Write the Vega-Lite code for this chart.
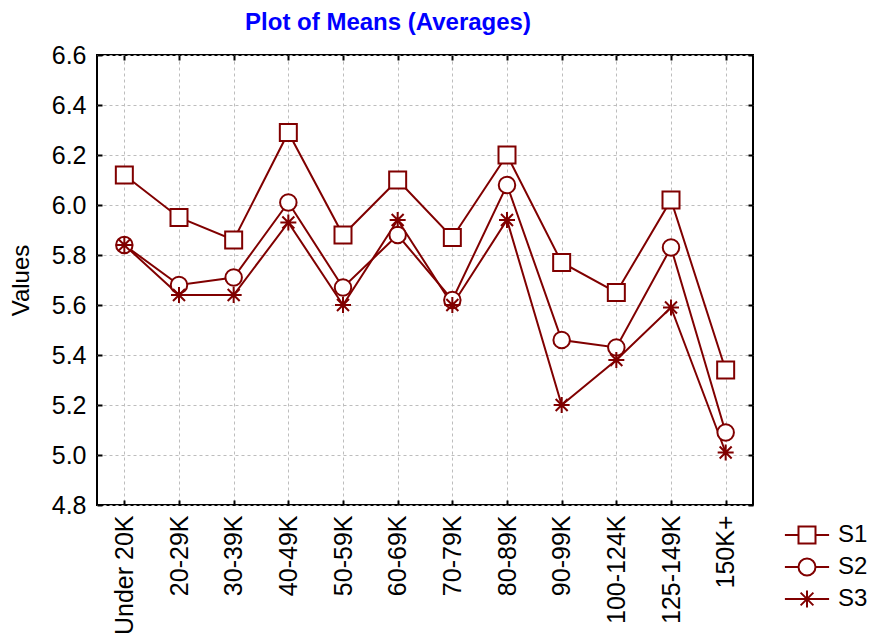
{
  "$schema": "https://vega.github.io/schema/vega-lite/v6.json",
  "width": 656,
  "height": 450,
  "autosize": {"type": "none"},
  "padding": {"left": 97, "top": 55, "right": 124, "bottom": 132},
  "background": "white",
  "title": {
    "text": "Plot of Means (Averages)",
    "font": "Liberation Sans",
    "fontSize": 24,
    "fontWeight": "bold",
    "color": "#0000ff",
    "anchor": "middle",
    "dx": -37,
    "offset": 8
  },
  "config": {
    "view": {"stroke": "black", "strokeWidth": 2},
    "axis": {
      "labelFont": "Liberation Sans",
      "titleFont": "Liberation Sans",
      "labelFontSize": 25,
      "titleFontSize": 24,
      "titleFontWeight": "normal",
      "labelColor": "black",
      "titleColor": "black",
      "tickColor": "black",
      "tickWidth": 2,
      "tickSize": -5,
      "domain": false,
      "gridColor": "#bdbdbd",
      "gridDash": [3, 3],
      "gridWidth": 1
    }
  },
  "data": {
    "values": [
      {"cat": "Under 20K", "series": "S1", "value": 6.12},
      {"cat": "20-29K", "series": "S1", "value": 5.95},
      {"cat": "30-39K", "series": "S1", "value": 5.86},
      {"cat": "40-49K", "series": "S1", "value": 6.29},
      {"cat": "50-59K", "series": "S1", "value": 5.88},
      {"cat": "60-69K", "series": "S1", "value": 6.10},
      {"cat": "70-79K", "series": "S1", "value": 5.87},
      {"cat": "80-89K", "series": "S1", "value": 6.20},
      {"cat": "90-99K", "series": "S1", "value": 5.77},
      {"cat": "100-124K", "series": "S1", "value": 5.65},
      {"cat": "125-149K", "series": "S1", "value": 6.02},
      {"cat": "150K+", "series": "S1", "value": 5.34},
      {"cat": "Under 20K", "series": "S2", "value": 5.84},
      {"cat": "20-29K", "series": "S2", "value": 5.68},
      {"cat": "30-39K", "series": "S2", "value": 5.71},
      {"cat": "40-49K", "series": "S2", "value": 6.01},
      {"cat": "50-59K", "series": "S2", "value": 5.67},
      {"cat": "60-69K", "series": "S2", "value": 5.88},
      {"cat": "70-79K", "series": "S2", "value": 5.62},
      {"cat": "80-89K", "series": "S2", "value": 6.08},
      {"cat": "90-99K", "series": "S2", "value": 5.46},
      {"cat": "100-124K", "series": "S2", "value": 5.43},
      {"cat": "125-149K", "series": "S2", "value": 5.83},
      {"cat": "150K+", "series": "S2", "value": 5.09},
      {"cat": "Under 20K", "series": "S3", "value": 5.84},
      {"cat": "20-29K", "series": "S3", "value": 5.64},
      {"cat": "30-39K", "series": "S3", "value": 5.64},
      {"cat": "40-49K", "series": "S3", "value": 5.93},
      {"cat": "50-59K", "series": "S3", "value": 5.60},
      {"cat": "60-69K", "series": "S3", "value": 5.94},
      {"cat": "70-79K", "series": "S3", "value": 5.60},
      {"cat": "80-89K", "series": "S3", "value": 5.94},
      {"cat": "90-99K", "series": "S3", "value": 5.20},
      {"cat": "100-124K", "series": "S3", "value": 5.38},
      {"cat": "125-149K", "series": "S3", "value": 5.59},
      {"cat": "150K+", "series": "S3", "value": 5.01}
    ]
  },
  "layer": [
    {
      "mark": {"type": "line", "color": "#800000", "strokeWidth": 2},
      "encoding": {
        "x": {
          "field": "cat", "type": "nominal", "sort": null,
          "axis": {"orient": "bottom", "title": null, "labelAngle": -90, "labelPadding": 15, "grid": true}
        },
        "y": {
          "field": "value", "type": "quantitative",
          "scale": {"domain": [4.8, 6.6], "nice": false, "zero": false},
          "axis": {"orient": "left", "title": "Values", "values": [4.8, 5.0, 5.2, 5.4, 5.6, 5.8, 6.0, 6.2, 6.4, 6.6], "format": ".1f", "labelPadding": 16, "titlePadding": 18, "grid": true}
        },
        "detail": {"field": "series"}
      }
    },
    {
      "mark": {"type": "point", "filled": true, "fill": "white", "stroke": "#800000", "strokeWidth": 2, "opacity": 1},
      "encoding": {
        "x": {
          "field": "cat", "type": "nominal", "sort": null,
          "axis": {"orient": "top", "title": null, "labels": false, "grid": false}
        },
        "y": {
          "field": "value", "type": "quantitative",
          "axis": {"orient": "right", "title": null, "labels": false, "grid": false, "values": [4.8, 5.0, 5.2, 5.4, 5.6, 5.8, 6.0, 6.2, 6.4, 6.6]}
        },
        "shape": {
          "field": "series", "type": "nominal",
          "scale": {"domain": ["S1", "S2", "S3"], "range": ["square", "circle", "M-1,0H1M0,-1V1M-0.75,-0.75L0.75,0.75M-0.75,0.75L0.75,-0.75"]},
          "legend": null
        },
        "size": {
          "field": "series", "type": "nominal",
          "scale": {"domain": ["S1", "S2", "S3"], "range": [289, 256, 324]},
          "legend": null
        }
      }
    },
    {
      "transform": [{"filter": "datum.value > 100"}],
      "mark": {"type": "point", "filled": false, "color": "#800000", "strokeWidth": 2, "opacity": 1},
      "encoding": {
        "x": {"field": "cat", "type": "nominal", "sort": null, "axis": null},
        "y": {"field": "value", "type": "quantitative", "axis": null},
        "shape": {
          "field": "series", "type": "nominal",
          "scale": {"domain": ["S1", "S2", "S3"], "range": ["M-2.6,0H-1M1,0H2.6M-1,-1H1V1H-1Z", "M-2.6,0H-1M1,0H2.6M-1,0A1,1 0 1,1 1,0A1,1 0 1,1 -1,0Z", "M-2.6,0H2.6M0,-1V1M-0.75,-0.75L0.75,0.75M-0.75,0.75L0.75,-0.75"]},
          "legend": {
            "title": null,
            "orient": "none",
            "legendX": 698,
            "legendY": 468,
            "direction": "vertical",
            "labelFont": "Liberation Sans",
            "labelFontSize": 24,
            "labelColor": "black",
            "labelOffset": 19,
            "rowPadding": 6,
            "symbolSize": 289,
            "symbolStrokeColor": "#800000",
            "symbolStrokeWidth": 2,
            "symbolOpacity": 1
          }
        }
      }
    }
  ],
  "resolve": {"axis": {"x": "independent", "y": "independent"}, "scale": {"shape": "independent", "size": "independent"}}
}
